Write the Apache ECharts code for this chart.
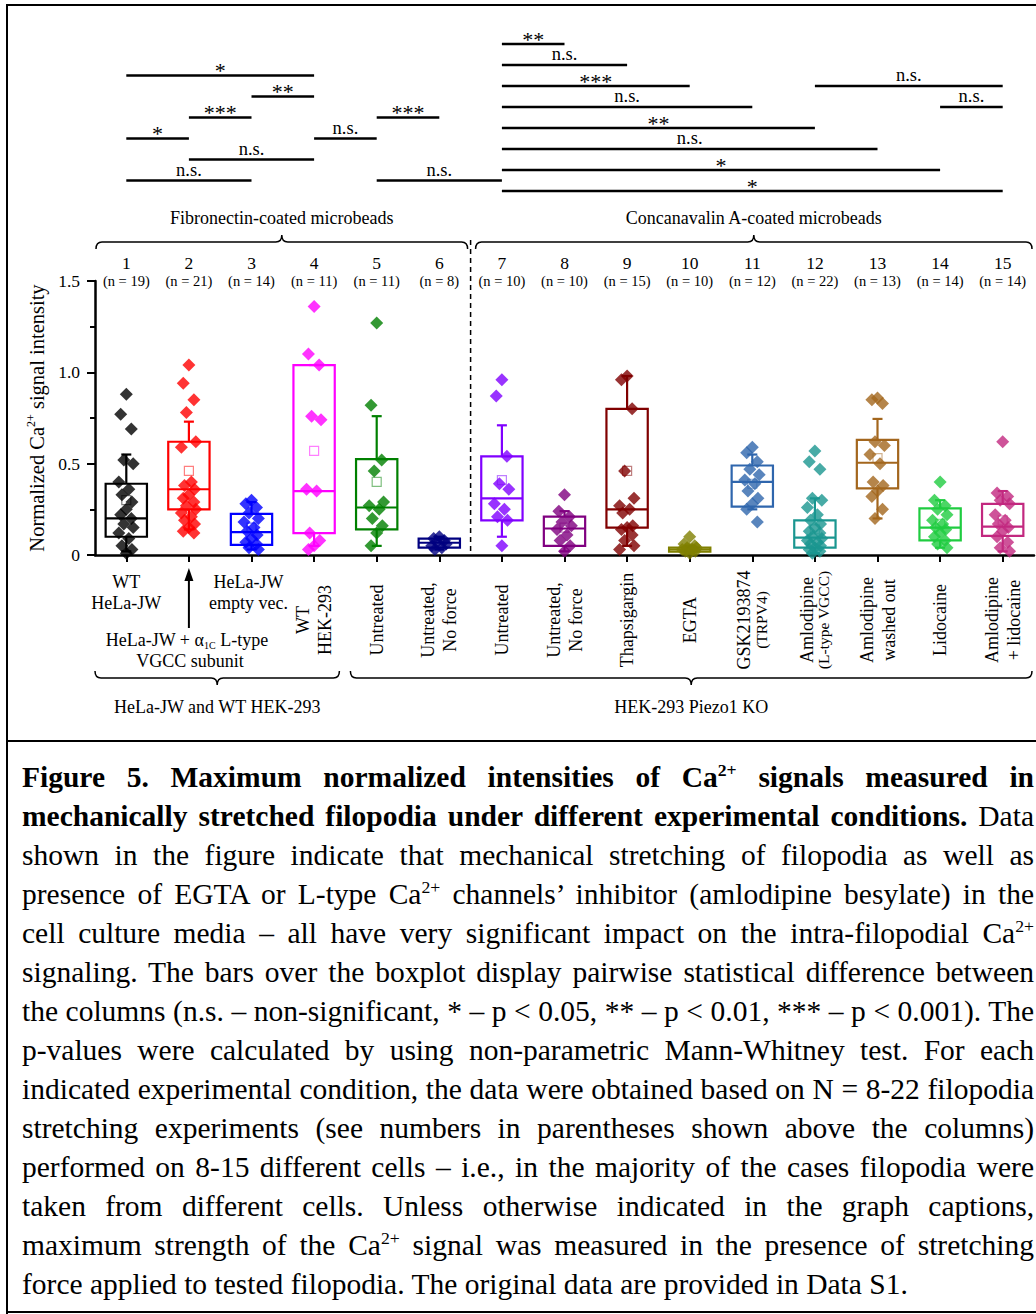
<!DOCTYPE html>
<html>
<head>
<meta charset="utf-8">
<title>Figure 5</title>
<script src="https://cdn.jsdelivr.net/npm/echarts@6/dist/echarts.min.js"></script>
<style>
  html, body { margin: 0; padding: 0; background: #fff; }
  body { width: 1036px; height: 1314px; position: relative; overflow: hidden;
         font-family: 'Liberation Serif', 'Times New Roman', serif; color: #000; }
  #chart { position: absolute; left: 0; top: 0; width: 1036px; height: 741px; }
  .frame { position: absolute; background: #000; }
  #caption { position: absolute; left: 22px; top: 758px; width: 1012px; font-size: 29.5px; line-height: 39px; }
  #caption div { text-align: justify; text-align-last: justify; height: 39px; }
  #caption div.last { text-align-last: left; }
  sup { font-size: 0.6em; line-height: 0; vertical-align: 0.65em; }
</style>
</head>
<body>
<div class="frame" style="left:6px;top:4px;width:1030px;height:2px"></div>
<div class="frame" style="left:6px;top:4px;width:2px;height:1310px"></div>
<div class="frame" style="left:6px;top:740px;width:1030px;height:2px"></div>
<div class="frame" style="left:6px;top:1311px;width:1030px;height:2px"></div>
<div id="chart"></div>
<div id="caption">
  <div><b>Figure 5. Maximum normalized intensities of Ca<sup>2+</sup> signals measured in</b></div>
  <div><b>mechanically stretched filopodia under different experimental conditions.</b> Data</div>
  <div>shown in the figure indicate that mechanical stretching of filopodia as well as</div>
  <div>presence of EGTA or L-type Ca<sup>2+</sup> channels’ inhibitor (amlodipine besylate) in the</div>
  <div>cell culture media – all have very significant impact on the intra-filopodial Ca<sup>2+</sup></div>
  <div>signaling. The bars over the boxplot display pairwise statistical difference between</div>
  <div>the columns (n.s. – non-significant, * – p &lt; 0.05, ** – p &lt; 0.01, *** – p &lt; 0.001). The</div>
  <div>p-values were calculated by using non-parametric Mann-Whitney test. For each</div>
  <div>indicated experimental condition, the data were obtained based on N = 8-22 filopodia</div>
  <div>stretching experiments (see numbers in parentheses shown above the columns)</div>
  <div>performed on 8-15 different cells – i.e., in the majority of the cases filopodia were</div>
  <div>taken from different cells. Unless otherwise indicated in the graph captions,</div>
  <div>maximum strength of the Ca<sup>2+</sup> signal was measured in the presence of stretching</div>
  <div class="last">force applied to tested filopodia. The original data are provided in Data S1.</div>
</div>
<script>
const FONT = "'Liberation Serif', 'Times New Roman', serif";

// column numbers and sizes printed above the boxes
const cats = ['1', '2', '3', '4', '5', '6', '7', '8', '9', '10', '11', '12', '13', '14', '15'];
const nCounts = [19, 21, 14, 11, 11, 8, 10, 10, 15, 10, 12, 22, 13, 14, 14];
const colors = ['#000000', '#ff0000', '#0000ff', '#ff00ff', '#008000', '#000080', '#8000ff', '#800080',
  '#800000', '#808000', '#2f66ad', '#1a9690', '#a3661d', '#1fcc40', '#c2287f'];

// boxplot stats
const q1 = [0.10, 0.25, 0.055, 0.12, 0.14, 0.04, 0.19, 0.05, 0.15, 0.018, 0.265, 0.04, 0.365, 0.08, 0.105];
const median = [0.20, 0.36, 0.125, 0.35, 0.26, 0.067, 0.31, 0.145, 0.25, 0.03, 0.40, 0.095, 0.505, 0.15, 0.155];
const q3 = [0.39, 0.62, 0.225, 1.04, 0.525, 0.09, 0.54, 0.21, 0.80, 0.04, 0.49, 0.19, 0.63, 0.255, 0.28];
const whiskerLow = [0.02, 0.14, 0.03, 0.05, 0.05, 0.03, 0.10, 0.02, 0.05, 0.01, 0.25, 0.01, 0.20, 0.04, 0.02];
const whiskerHigh = [0.55, 0.73, 0.29, 1.04, 0.76, 0.10, 0.71, 0.24, 0.98, 0.05, 0.55, 0.31, 0.745, 0.30, 0.35];
const means = [0.30, 0.46, 0.15, 0.57, 0.40, 0.067, 0.41, 0.15, 0.46, 0.035, 0.39, 0.14, 0.53, 0.17, 0.19];

// single filopodia values
const p1 = [0.88, 0.77, 0.69, 0.52, 0.50, 0.40, 0.36, 0.33, 0.29, 0.25, 0.22, 0.20, 0.17, 0.15, 0.12, 0.09, 0.05, 0.03, 0.01];
const p2 = [1.04, 0.94, 0.85, 0.78, 0.62, 0.59, 0.40, 0.38, 0.36, 0.33, 0.31, 0.29, 0.27, 0.25, 0.23, 0.21, 0.19, 0.17, 0.15, 0.13, 0.12];
const p3 = [0.30, 0.28, 0.26, 0.23, 0.20, 0.18, 0.15, 0.13, 0.11, 0.09, 0.07, 0.06, 0.04, 0.03];
const p4 = [1.36, 1.10, 1.04, 0.76, 0.74, 0.36, 0.35, 0.12, 0.08, 0.05, 0.03];
const p5 = [1.27, 0.82, 0.52, 0.46, 0.29, 0.27, 0.25, 0.20, 0.16, 0.12, 0.05];
const p6 = [0.10, 0.09, 0.08, 0.07, 0.06, 0.05, 0.04, 0.03];
const p7 = [0.96, 0.87, 0.54, 0.39, 0.36, 0.28, 0.25, 0.21, 0.19, 0.05];
const p8 = [0.33, 0.24, 0.21, 0.18, 0.16, 0.14, 0.11, 0.08, 0.05, 0.02];
const p9 = [0.98, 0.96, 0.80, 0.46, 0.31, 0.27, 0.25, 0.23, 0.16, 0.15, 0.14, 0.11, 0.08, 0.05, 0.03];
const p10 = [0.10, 0.06, 0.05, 0.04, 0.04, 0.03, 0.03, 0.02, 0.02, 0.01];
const p11 = [0.59, 0.56, 0.51, 0.47, 0.44, 0.41, 0.39, 0.35, 0.31, 0.28, 0.25, 0.18];
const p12 = [0.57, 0.51, 0.47, 0.31, 0.30, 0.26, 0.22, 0.19, 0.17, 0.15, 0.13, 0.12, 0.10, 0.09, 0.08, 0.07, 0.06, 0.05, 0.04, 0.03, 0.02, 0.01];
const p13 = [0.86, 0.85, 0.83, 0.62, 0.60, 0.55, 0.50, 0.40, 0.38, 0.35, 0.32, 0.25, 0.20];
const p14 = [0.40, 0.30, 0.27, 0.25, 0.22, 0.19, 0.17, 0.15, 0.14, 0.12, 0.10, 0.08, 0.06, 0.04];
const p15 = [0.62, 0.34, 0.32, 0.30, 0.28, 0.22, 0.19, 0.17, 0.15, 0.13, 0.10, 0.07, 0.04, 0.02];
const points = [p1, p2, p3, p4, p5, p6, p7, p8, p9, p10, p11, p12, p13, p14, p15];

// x labels (col 2 is the arrow label, from col 4 on they are rotated)
const xLabels = ['WT\nHeLa-JW', '', 'HeLa-JW\nempty vec.', 'WT\nHEK-293', 'Untreated', 'Untreated,\nNo force',
  'Untreated', 'Untreated,\nNo force', 'Thapsigargin', 'EGTA', 'GSK2193874\n(TRPV4)', 'Amlodipine\n(L-type VGCC)',
  'Amlodipine\nwashed out', 'Lidocaine', 'Amlodipine\n+ lidocaine'];
const smallSecondLine = [10, 11];

const topGroups = [['Fibronectin-coated microbeads', 1, 6], ['Concanavalin A-coated microbeads', 7, 15]];
const bottomGroups = [['HeLa-JW and WT HEK-293', 1, 4], ['HEK-293 Piezo1 KO', 5, 15]];

// significance bars: [from col, to col, row, label]
const sigBars = [
  [1, 4, 1.5, '*'], [3, 4, 2.5, '**'], [2, 3, 3.5, '***'], [5, 6, 3.5, '***'],
  [1, 2, 4.5, '*'], [4, 5, 4.5, 'n.s.'], [2, 4, 5.5, 'n.s.'], [1, 3, 6.5, 'n.s.'], [5, 7, 6.5, 'n.s.'],
  [7, 8, 0, '**'], [7, 9, 1, 'n.s.'], [7, 10, 2, '***'], [12, 15, 2, 'n.s.'], [7, 11, 3, 'n.s.'],
  [14, 15, 3, 'n.s.'], [7, 12, 4, '**'], [7, 13, 5, 'n.s.'], [7, 14, 6, '*'], [7, 15, 7, '*']
];

function jitter(j) {
  // fixed spread so the diamonds don't sit on one line
  const pattern = [0, -0.09, 0.08, -0.04, 0.11, -0.12, 0.04, -0.07, 0.09];
  return pattern[j % pattern.length];
}

function txt(x, y, text, size, extra) {
  return Object.assign({
    type: 'text', x: x, y: y, silent: true,
    style: { text: text, fontSize: size, fontFamily: FONT, fill: '#000',
      align: 'center', verticalAlign: 'middle', textAlign: 'center', textVerticalAlign: 'middle' }
  }, extra || {});
}

function brace(x1, x2, y, dir) {
  const m = (x1 + x2) / 2, h = 7, r = 6;
  const d = 'M' + x1 + ' ' + (y - dir * h) + ' Q' + x1 + ' ' + y + ' ' + (x1 + r) + ' ' + y +
    ' L' + (m - r) + ' ' + y + ' Q' + m + ' ' + y + ' ' + m + ' ' + (y + dir * h) +
    ' Q' + m + ' ' + y + ' ' + (m + r) + ' ' + y + ' L' + (x2 - r) + ' ' + y +
    ' Q' + x2 + ' ' + y + ' ' + x2 + ' ' + (y - dir * h);
  return { type: 'path', shape: { pathData: d }, style: { stroke: '#000', fill: 'none', lineWidth: 1.5 } };
}

function lineStyle(c, w) {
  return { stroke: c, lineWidth: w };
}

function renderBox(params, api) {
  const i = params.dataIndex;
  const x = api.value(0);
  const bw = api.size([1, 0])[0] * 0.66;
  const lo = api.coord([x, api.value(1)]);
  const b1 = api.coord([x, api.value(2)]);
  const md = api.coord([x, api.value(3)]);
  const b3 = api.coord([x, api.value(4)]);
  const hi = api.coord([x, api.value(5)]);
  const mn = api.coord([x, api.value(6)]);
  const c = colors[i];
  const cap = 5;
  return {
    type: 'group',
    children: [
      { type: 'line', shape: { x1: hi[0], y1: hi[1], x2: b3[0], y2: b3[1] }, style: lineStyle(c, 2.2) },
      { type: 'line', shape: { x1: hi[0] - cap, y1: hi[1], x2: hi[0] + cap, y2: hi[1] }, style: lineStyle(c, 2.2) },
      { type: 'line', shape: { x1: lo[0], y1: lo[1], x2: b1[0], y2: b1[1] }, style: lineStyle(c, 2.2) },
      { type: 'line', shape: { x1: lo[0] - cap, y1: lo[1], x2: lo[0] + cap, y2: lo[1] }, style: lineStyle(c, 2.2) },
      { type: 'rect', shape: { x: b1[0] - bw / 2, y: b3[1], width: bw, height: b1[1] - b3[1] },
        style: { stroke: c, lineWidth: 2.2, fill: 'none' } },
      { type: 'line', shape: { x1: md[0] - bw / 2, y1: md[1], x2: md[0] + bw / 2, y2: md[1] }, style: lineStyle(c, 2.2) },
      { type: 'rect', shape: { x: mn[0] - 4.5, y: mn[1] - 4.5, width: 9, height: 9 },
        style: { stroke: c, lineWidth: 1.2, fill: 'none', opacity: 0.5 } }
    ]
  };
}

function renderColumnText(params, api) {
  const i = params.dataIndex;
  const x = api.value(0);
  const base = api.coord([x, 0])[1];
  const top = api.coord([x, 1.5])[1];
  const cx = api.coord([x, 0])[0];
  const kids = [
    txt(cx, top - 18, cats[i], 17.5),
    txt(cx, top, '(n = ' + nCounts[i] + ')', 14.5)
  ];
  if (i === 1) {
    kids.push({ type: 'line', shape: { x1: cx, y1: base + 73, x2: cx, y2: base + 24 }, style: lineStyle('#000', 2) });
    kids.push({ type: 'polygon', shape: { points: [[cx, base + 13], [cx - 4.5, base + 26], [cx + 4.5, base + 26]] },
      style: { fill: '#000' } });
    kids.push(txt(cx - 2, base + 85, '{t|HeLa-JW + α}{s|1C}{t| L-type}', 18));
    kids[kids.length - 1].style.rich = {
      t: { fontSize: 18, fontFamily: FONT, lineHeight: 20 },
      s: { fontSize: 10, fontFamily: FONT, lineHeight: 8, verticalAlign: 'bottom' }
    };
    kids.push(txt(cx + 1, base + 106, 'VGCC subunit', 18));
  } else if (i < 3) {
    xLabels[i].split('\n').forEach(function (s, k) {
      kids.push(txt(cx - (i === 2 ? 3 : 0), base + 27 + k * 21, s, 18));
    });
  } else {
    const parts = xLabels[i].split('\n');
    const small = smallSecondLine.indexOf(i) >= 0;
    let text = '{a|' + parts[0] + '}';
    if (parts.length > 1) text += '\n{' + (small ? 'b' : 'a') + '|' + parts[1] + '}';
    const t = txt(cx + (small ? -2 : 0), base + 65, text, 18, { rotation: Math.PI / 2 });
    t.style.rich = {
      a: { fontSize: 18, fontFamily: FONT, lineHeight: 22 },
      b: { fontSize: 15.5, fontFamily: FONT, lineHeight: 12 }
    };
    kids.push(t);
  }
  return { type: 'group', children: kids };
}

function renderFrameMarks(params, api) {
  const base = api.coord([1, 0])[1];
  const top = api.coord([1, 1.5])[1];
  const kids = [];
  const xd = api.coord([6.5, 0])[0];
  kids.push({ type: 'line', shape: { x1: xd, y1: top - 41, x2: xd, y2: base },
    style: { stroke: '#000', lineWidth: 1.5, lineDash: [5, 4] } });
  topGroups.forEach(function (g) {
    const x1 = api.coord([g[1] - 0.5, 0])[0] + (g[1] === 1 ? 1 : 5);
    const x2 = api.coord([g[2] + 0.5, 0])[0] - (g[2] === 15 ? 2 : 3);
    kids.push(brace(x1, x2, top - 39, -1));
    kids.push(txt((x1 + x2) / 2, top - 63, g[0], 18));
  });
  bottomGroups.forEach(function (g) {
    const x1 = api.coord([g[1] - 0.5, 0])[0] + (g[1] === 1 ? 0 : 5);
    const x2 = api.coord([g[2] + 0.5, 0])[0] - (g[2] === 15 ? 2 : 6);
    kids.push(brace(x1, x2, base + 123, 1));
    kids.push(txt((x1 + x2) / 2, base + 152, g[0], 18));
  });
  return { type: 'group', children: kids };
}

function renderSig(params, api) {
  const b = sigBars[params.dataIndex];
  const a = api.coord([b[0], b[2]]);
  const z = api.coord([b[1], b[2]]);
  const star = b[3].charAt(0) === '*';
  return {
    type: 'group',
    children: [
      { type: 'line', shape: { x1: a[0], y1: a[1], x2: z[0], y2: z[1] }, style: lineStyle('#000', 2.6) },
      txt((a[0] + z[0]) / 2, a[1] - (star ? 5 : 11), b[3], star ? 22 : 18.5)
    ]
  };
}

const scatterData = [];
points.forEach(function (arr, g) {
  arr.forEach(function (v, j) {
    scatterData.push({ value: [g + 1 + jitter(j), v], itemStyle: { color: colors[g] } });
  });
});

const chart = echarts.init(document.getElementById('chart'), null, { renderer: 'svg' });
chart.setOption({
  animation: false,
  grid: [
    { left: 95, right: 2, top: 281, bottom: 186 },
    { left: 95, right: 2, top: 44, height: 147 }
  ],
  xAxis: [
    { type: 'category', gridIndex: 0, data: cats, boundaryGap: true,
      axisLine: { show: true, lineStyle: { color: '#000', width: 2.5 } },
      axisTick: { show: true, alignWithLabel: true, interval: 0, length: 7, lineStyle: { color: '#000', width: 2 } },
      axisLabel: { show: false }, splitLine: { show: false } },
    { type: 'value', gridIndex: 0, min: 0.5, max: 15.5, show: false },
    { type: 'value', gridIndex: 1, min: 0.5, max: 15.5, show: false }
  ],
  yAxis: [
    { type: 'value', gridIndex: 0, min: 0, max: 1.5, interval: 0.5,
      axisLine: { show: true, lineStyle: { color: '#000', width: 2.5 } },
      axisTick: { show: true, length: 8, lineStyle: { color: '#000', width: 2 } },
      minorTick: { show: true, splitNumber: 2, length: 5, lineStyle: { color: '#000', width: 2 } },
      splitLine: { show: false },
      axisLabel: { margin: 15, color: '#000', fontSize: 17.5, fontFamily: FONT,
        formatter: function (v) { return v === 0 ? '0' : v.toFixed(1); } },
      name: '{a|Normalized Ca}{s|2+}{a| signal intensity}',
      nameLocation: 'middle', nameRotate: 90, nameGap: 45,
      nameTextStyle: { color: '#000', fontSize: 20.5, fontFamily: FONT,
        rich: { a: { fontSize: 20.5, fontFamily: FONT, color: '#000', lineHeight: 23 },
                s: { fontSize: 12, fontFamily: FONT, color: '#000', lineHeight: 10, verticalAlign: 'top' } } } },
    { type: 'value', gridIndex: 1, min: 0, max: 7, inverse: true, show: false }
  ],
  series: [
    { type: 'custom', name: 'boxes', xAxisIndex: 1, yAxisIndex: 0, renderItem: renderBox, silent: true,
      encode: { x: 0, y: [1, 2, 3, 4, 5, 6] },
      data: cats.map(function (c, i) { return [i + 1, whiskerLow[i], q1[i], median[i], q3[i], whiskerHigh[i], means[i]]; }) },
    { type: 'scatter', name: 'filopodia', xAxisIndex: 1, yAxisIndex: 0, symbol: 'diamond', symbolSize: 13,
      silent: true, data: scatterData },
    { type: 'custom', name: 'column text', xAxisIndex: 1, yAxisIndex: 0, renderItem: renderColumnText, silent: true,
      encode: { x: 0, y: 1 }, data: cats.map(function (c, i) { return [i + 1, 0]; }) },
    { type: 'custom', name: 'groups', xAxisIndex: 1, yAxisIndex: 0, renderItem: renderFrameMarks, silent: true,
      encode: { x: 0, y: 1 }, data: [[1, 0]] },
    { type: 'custom', name: 'significance', xAxisIndex: 2, yAxisIndex: 1, renderItem: renderSig, silent: true,
      encode: { x: [0, 2], y: 1 }, data: sigBars.map(function (b) { return [b[0], b[2], b[1]]; }) }
  ]
});
</script>
</body>
</html>
